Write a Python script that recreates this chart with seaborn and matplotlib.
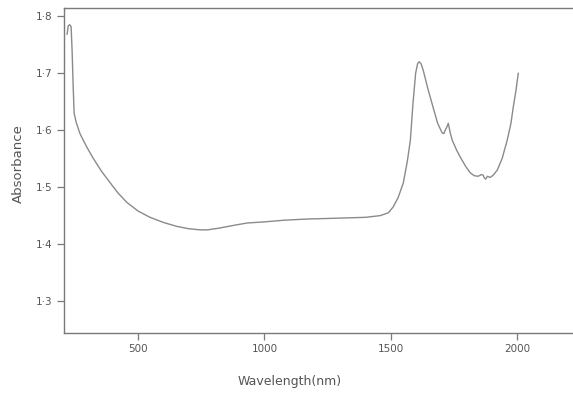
import matplotlib
matplotlib.use("Agg")
import matplotlib.pyplot as plt
import seaborn as sns
import pandas as pd

# spectrum
wavelength = [219, 224, 229, 235, 239, 243, 247, 255, 270, 295, 322, 355, 389, 420,
              456, 500, 547, 600, 654, 700, 745, 775, 820, 880, 931, 1000, 1080, 1169,
              1250, 1327, 1400, 1458, 1490, 1509, 1529, 1549, 1565, 1577, 1588, 1598,
              1606, 1612, 1620, 1628, 1645, 1667, 1685, 1703, 1710, 1715, 1722, 1727,
              1735, 1743, 1760, 1774, 1795, 1814, 1830, 1845, 1858, 1865, 1870, 1875,
              1882, 1893, 1905, 1921, 1940, 1960, 1975, 1984, 1995, 2004]
absorbance = [1.768, 1.783, 1.785, 1.782, 1.740, 1.680, 1.630, 1.614, 1.594, 1.572,
              1.551, 1.528, 1.508, 1.490, 1.473, 1.458, 1.447, 1.438, 1.431, 1.427,
              1.425, 1.425, 1.428, 1.433, 1.437, 1.439, 1.442, 1.444, 1.445, 1.446,
              1.447, 1.450, 1.455, 1.465, 1.482, 1.507, 1.545, 1.582, 1.650, 1.700,
              1.717, 1.720, 1.716, 1.705, 1.675, 1.640, 1.612, 1.595, 1.594, 1.600,
              1.606, 1.612, 1.595, 1.582, 1.565, 1.553, 1.537, 1.525, 1.520, 1.519,
              1.522, 1.521, 1.516, 1.514, 1.519, 1.517, 1.521, 1.530, 1.550, 1.582,
              1.612, 1.640, 1.670, 1.700]

x_ticks = [500, 1000, 1500, 2000]
y_ticks = [1.3, 1.4, 1.5, 1.6, 1.7, 1.8]
y_labels = ["1·3", "1·4", "1·5", "1·6", "1·7", "1·8"]

df = pd.DataFrame({"Wavelength": wavelength, "Absorbance": absorbance})

sns.set_style("ticks")
plt.rcParams['font.family'] = ['DejaVu Sans']

fig = plt.figure(figsize=(5.73, 4.0), dpi=100)
ax = fig.add_axes([0.1117, 0.1675, 0.8903, 0.8135])

sns.lineplot(data=df, x="Wavelength", y="Absorbance", sort=False,
             color="#8a8a8a", linewidth=1.0, ax=ax)

ax.set_xlim(207, 2225)
ax.set_ylim(1.244, 1.815)
ax.set_xticks(x_ticks)
ax.set_xticklabels([str(t) for t in x_ticks])
ax.set_yticks(y_ticks)
ax.set_yticklabels(y_labels)

spine_col = "#7a7a7a"
for side in ["left", "bottom", "top"]:
    ax.spines[side].set_color(spine_col)
    ax.spines[side].set_linewidth(1.0)
ax.spines["right"].set_visible(False)

ax.tick_params(axis="both", colors=spine_col, labelcolor="#555555",
               length=5, width=0.9, labelsize=7.5, pad=3)

ax.set_xlabel("Wavelength(nm)", fontsize=9, color="#555555")
ax.xaxis.set_label_coords(0.443, -0.13)
ax.set_ylabel("Absorbance", fontsize=9.5, color="#555555")
ax.yaxis.set_label_coords(-0.077, 0.52)

fig.savefig("out.png", dpi=100)
